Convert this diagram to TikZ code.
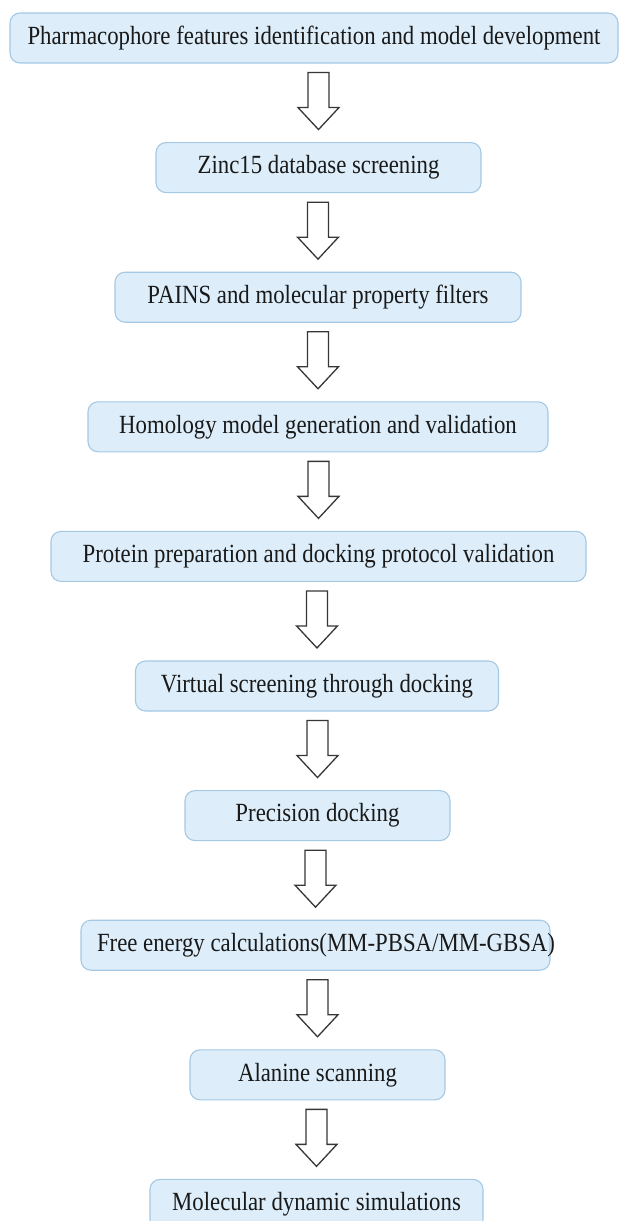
\documentclass[tikz,border=0pt]{standalone}
\usepackage{fontspec}
\setmainfont{Liberation Serif}
\usetikzlibrary{calc}
\definecolor{boxfill}{RGB}{221,238,250}
\definecolor{boxline}{RGB}{165,200,228}
\definecolor{txt}{RGB}{25,25,25}
\definecolor{arrowline}{RGB}{55,55,55}
\newcommand{\bt}[1]{\scalebox{1}[1.15]{#1}}
\begin{document}
\begin{tikzpicture}[x=1pt,y=-1pt,
  stepbox/.style={draw=boxline, line width=1.1pt, fill=boxfill, rounded corners=10pt,
    minimum height=50pt, inner xsep=0pt, inner ysep=0pt, text=txt,
    font=\fontsize{22.8}{26}\selectfont},
  blockarrow/.style={draw=arrowline, fill=white, line width=1.3pt, line join=miter,
    to path={let \p1=($(\tikztostart.south)+(0,9)$), \p2=($(\tikztotarget.north)+(0,-12.5)$) in
      (\x2-10.5pt,\y1) -- (\x2+10.5pt,\y1) -- (\x2+10.5pt,\y2+22pt) -- (\x2+20.5pt,\y2+22pt)
      -- (\x2,\y2) -- (\x2-20.5pt,\y2+22pt) -- (\x2-10.5pt,\y2+22pt) -- cycle}}]
\useasboundingbox (0,0) rectangle (621,1221);
\clip (0,0) rectangle (621,1221);
\fill[white] (0,0) rectangle (621,1221);

\node[stepbox, minimum width=608pt] (b1) at (314,38) {\bt{Pharmacophore features identification and model development}};
\node[stepbox, minimum width=325pt] (b2) at (318.5,167.6) {\bt{Zinc15 database screening}};
\node[stepbox, minimum width=406pt] (b3) at (318,297.2) {\bt{PAINS and molecular property filters}};
\node[stepbox, minimum width=460pt] (b4) at (318,426.8) {\bt{Homology model generation and validation}};
\node[stepbox, minimum width=535pt] (b5) at (318.5,556.4) {\bt{Protein preparation and docking protocol validation}};
\node[stepbox, minimum width=363pt] (b6) at (317,686) {\bt{Virtual screening through docking}};
\node[stepbox, minimum width=265pt] (b7) at (317.5,815.6) {\bt{Precision docking}};
\node[stepbox, minimum width=469pt] (b8) at (315.5,945.2) {\makebox[437pt][l]{\bt{Free energy calculations(MM-PBSA/MM-GBSA)}}};
\node[stepbox, minimum width=255pt] (b9) at (317.5,1074.8) {\bt{Alanine scanning}};
\node[stepbox, minimum width=333pt] (b10) at (316.5,1204.4) {\bt{Molecular dynamic simulations}};

\draw[blockarrow] (b1) to (b2);
\draw[blockarrow] (b2) to (b3);
\draw[blockarrow] (b3) to (b4);
\draw[blockarrow] (b4) to (b5);
\draw[blockarrow] (b5) to (b6);
\draw[blockarrow] (b6) to (b7);
\draw[blockarrow] (b7) to (b8);
\draw[blockarrow] (b8) to (b9);
\draw[blockarrow] (b9) to (b10);
\end{tikzpicture}
\end{document}
